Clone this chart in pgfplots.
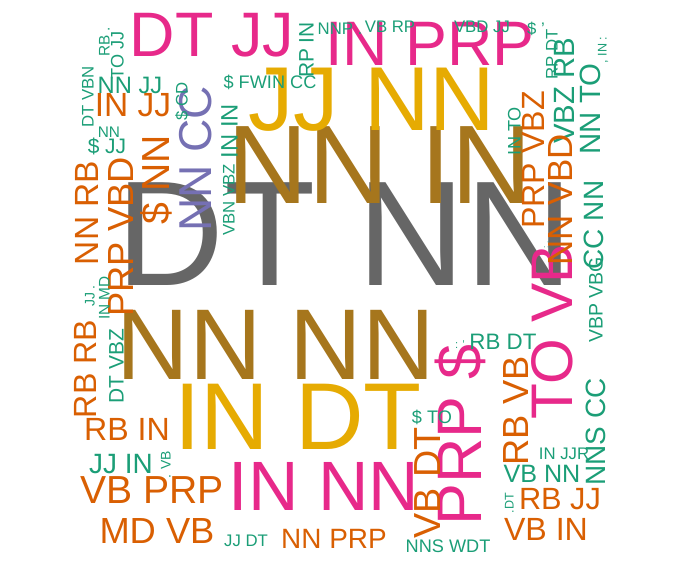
\documentclass[border=0pt]{standalone}
\usepackage{fontspec}
\setmainfont{Liberation Sans}
\usepackage{pgfplots}
\usepackage{pgfplotstable}
\pgfplotsset{compat=1.18}
\definecolor{cT}{HTML}{1B9E77}
\definecolor{cO}{HTML}{D95F02}
\definecolor{cV}{HTML}{7570B3}
\definecolor{cP}{HTML}{E7298A}
\definecolor{cY}{HTML}{E6AB02}
\definecolor{cB}{HTML}{A6761D}
\definecolor{cG}{HTML}{666666}
\newcommand\colname[1]{\ifcase#1 cG\or cT\or cO\or cV\or cP\or cY\or cB\else cG\fi}
% colour index: 0 gray, 1 teal, 2 orange, 3 purple, 4 pink, 5 yellow, 6 brown
\pgfplotstableread[col sep=semicolon]{
x;y;h;r;c;label
345;282;107;0;0;DT NN
380;200;80;0;6;NN IN
276;376;72;0;6;NN NN
372;127;65;0;5;JJ NN
298;446;68;0;5;IN DT
324;507;50;0;4;IN NN
212;53;45;0;4;DT JJ
430;62;45;0;4;IN PRP
478;435;45;90;4;PRP \$
569;332;42;90;4;TO VB
208;159;33;90;3;NN CC
166;180;28;90;2;\$ NN
130;237;26;90;2;PRP VBD
95;213;24;90;2;NN RB
133;113;24;0;2;IN JJ
130;90;17;0;1;NN JJ
120;55;13;90;1;TO JJ
106;42;11;90;1;RB .
90;97;12;90;1;DT VBN
109;134;11;0;1;NN
107;150;15;0;1;\$ JJ
184;101;12;90;1;\$ CD
270;85;13;0;1;\$ FWIN CC
234;131;17;90;1;IN IN
231;200;12;90;1;VBN VBZ
310;50;15;90;1;RP IN
340;31;12;0;1;NNP .
390;29;12;0;1;VB RP
482;29;12;0;1;VBD JJ
536;31;12;0;1;\$ '
554;54;12;90;1;RP DT
571;91;21;90;1;VBZ RB
603;50;9;90;1;, IN :
597;109;21;90;1;NN TO
517;131;13;90;1;IN TO
541;160;23;90;2;PRP VBZ
569;200;25;90;2;NN VBD
600;225;20;90;1;CC NN
545;245;6;90;1;: .
599;300;14;90;1;VBP VBG
602;432;20;90;1;NNS CC
564;456;12;0;1;IN JJR
542;479;18;0;1;VB NN
510;503;9;90;1;.DT
560;506;22;0;2;RB JJ
546;537;23;0;2;VB IN
525;411;26;90;2;RB VB
503;346;16;0;1;RB DT
460;345;8;0;1;: '
432;420;13;0;1;\$ TO
437;483;27;90;2;VB DT
448;549;13;0;1;NNS WDT
334;545;20;0;2;NN PRP
246;543;12;0;1;JJ DT
157;540;26;0;2;MD VB
152;500;28;0;2;VB PRP
121;470;20;0;1;JJ IN
167;465;10;90;1;. VB
127;437;23;0;2;RB IN
93;369;23;90;2;RB RB
120;366;15;90;1;DT VBZ
106;298;11;90;1;IN MD
91;296;10;90;1;JJ .
}\words
\begin{document}
\begin{tikzpicture}
\begin{axis}[name=ax, width=691pt, height=576pt, scale only axis,
  xmin=0, xmax=691, ymin=0, ymax=576, y dir=reverse, hide axis, clip=false]
\addplot[draw=none, mark=none, point meta=explicit symbolic,
  visualization depends on={\thisrow{h}/0.716\as\fs},
  visualization depends on={\thisrow{r}\as\rot},
  visualization depends on={\thisrow{c}\as\col},
  nodes near coords,
  every node near coord/.append style={anchor=center, inner sep=0pt,
    /utils/exec={\pgfmathtruncatemacro\ci{\col}},
    font=\fontsize{\fs pt}{\fs pt}\selectfont, text=\colname{\ci}, rotate=\rot,
    text height=0.716em, text depth=0pt}]
  table[x=x, y=y, meta=label] {\words};
\end{axis}
\pgfresetboundingbox
\path (ax.south west) rectangle (ax.north east);
\end{tikzpicture}
\end{document}
